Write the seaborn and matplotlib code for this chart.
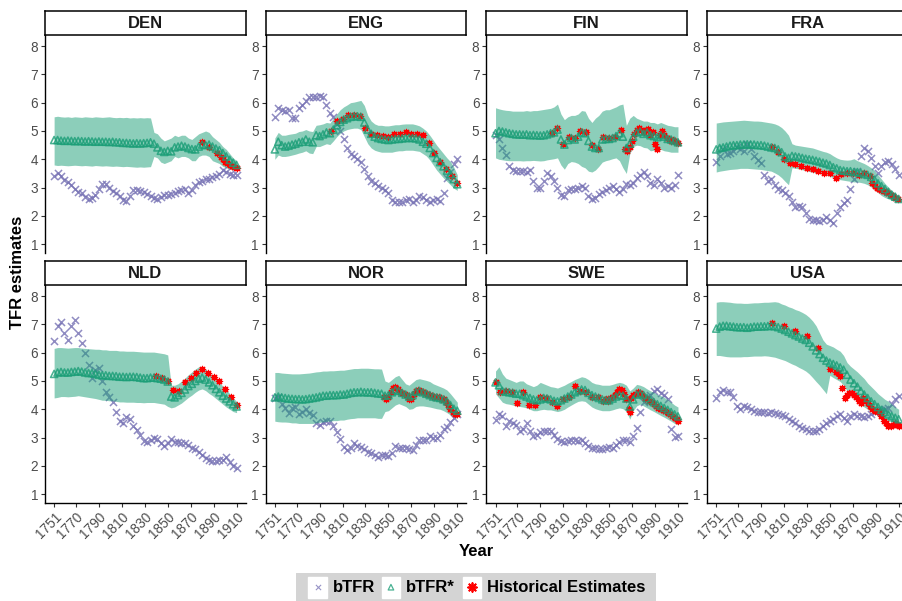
import matplotlib
matplotlib.use("Agg")
import matplotlib.pyplot as plt
from matplotlib.patches import Rectangle
import numpy as np
import pandas as pd
import seaborn as sns

# ---------------------------------------------------------------------------
# Data: annual-grid estimates sampled every three years (1751 ... 1910)
# ---------------------------------------------------------------------------
countries = ["DEN", "ENG", "FIN", "FRA", "NLD", "NOR", "SWE", "USA"]
years = list(range(1751, 1911, 3))

# Denmark
den_btfr = [3.40, 3.50, 3.40, 3.28, 3.20, 3.08, 2.95, 2.85, 2.80, 2.68,
            2.60, 2.62, 2.75, 2.95, 3.12, 3.12, 3.00, 2.88, 2.80, 2.72,
            2.55, 2.52, 2.70, 2.92, 2.90, 2.88, 2.85, 2.78, 2.72, 2.65,
            2.60, 2.68, 2.75, 2.75, 2.78, 2.82, 2.88, 2.92, 2.95, 2.82,
            2.90, 3.08, 3.20, 3.25, 3.30, 3.32, 3.36, 3.42, 3.48, 3.62,
            3.55, 3.48, 3.45, 3.45]
den_star = [4.68, 4.68, 4.66, 4.65, 4.66, 4.65, 4.64, 4.65, 4.64, 4.63,
            4.64, 4.63, 4.62, 4.63, 4.62, 4.62, 4.61, 4.62, 4.60, 4.60,
            4.58, 4.58, 4.57, 4.56, 4.57, 4.56, 4.57, 4.58, 4.60, 4.55,
            4.42, 4.30, 4.26, 4.30, 4.28, 4.42, 4.45, 4.48, 4.45, 4.40,
            4.36, 4.35, 4.45, 4.52, 4.50, 4.52, 4.45, 4.38, 4.32, 4.22,
            4.10, 3.98, 3.88, 3.80]
den_hi = [5.50, 5.52, 5.50, 5.49, 5.50, 5.48, 5.50, 5.49, 5.48, 5.50,
          5.49, 5.48, 5.50, 5.49, 5.48, 5.49, 5.50, 5.48, 5.47, 5.48,
          5.47, 5.48, 5.46, 5.47, 5.46, 5.47, 5.46, 5.47, 5.46, 4.95,
          4.90, 4.75, 4.65, 4.70, 4.75, 4.85, 4.80, 4.85, 4.85, 4.75,
          4.70, 4.80, 4.90, 4.95, 5.00, 4.95, 4.80, 4.70, 4.60, 4.45,
          4.35, 4.20, 4.05, 3.95]
den_lo = [3.80, 3.78, 3.79, 3.78, 3.77, 3.78, 3.79, 3.78, 3.77, 3.78,
          3.77, 3.76, 3.78, 3.77, 3.76, 3.77, 3.76, 3.75, 3.76, 3.75,
          3.74, 3.75, 3.74, 3.73, 3.72, 3.73, 3.72, 3.73, 3.74, 4.10,
          4.05, 3.90, 3.85, 3.90, 3.95, 4.10, 4.05, 4.10, 4.10, 4.05,
          3.95, 3.95, 4.10, 4.15, 4.15, 4.10, 3.95, 3.90, 3.85, 3.75,
          3.70, 3.65, 3.62, 3.60]
den_hist_years = [1880, 1886, 1893, 1896, 1898, 1900, 1902, 1904, 1906, 1908, 1910]
den_hist = [4.62, 4.45, 4.22, 4.08, 4.00, 3.92, 3.86, 3.80, 3.76, 3.72, 3.68]

# England
eng_btfr = [5.50, 5.80, 5.75, 5.70, 5.75, 5.45, 5.45, 5.80, 5.90, 6.05,
            6.20, 6.20, 6.20, 6.25, 6.20, 5.90, 5.65, 5.50, 5.25, 5.00,
            4.70, 4.40, 4.20, 4.10, 4.00, 3.90, 3.65, 3.40, 3.25, 3.15,
            3.05, 2.98, 2.92, 2.80, 2.55, 2.50, 2.50, 2.48, 2.55, 2.60,
            2.50, 2.55, 2.70, 2.68, 2.55, 2.50, 2.55, 2.58, 2.52, 2.80,
            3.35, 3.55, 3.85, 4.00]
eng_star = [4.35, 4.62, 4.50, 4.45, 4.48, 4.52, 4.55, 4.60, 4.62, 4.70,
            4.62, 4.60, 4.85, 4.82, 4.88, 4.95, 4.92, 5.05, 5.20, 5.32,
            5.40, 5.45, 5.50, 5.52, 5.52, 5.50, 5.30, 5.05, 4.90, 4.80,
            4.75, 4.72, 4.70, 4.68, 4.70, 4.72, 4.72, 4.74, 4.75, 4.76,
            4.75, 4.74, 4.70, 4.62, 4.55, 4.40, 4.22, 4.05, 3.90, 3.75,
            3.60, 3.48, 3.30, 3.12]
eng_hi = [4.75, 4.95, 4.85, 4.85, 4.88, 4.90, 4.92, 4.98, 5.00, 5.05,
          5.00, 4.98, 5.20, 5.22, 5.25, 5.30, 5.28, 5.45, 5.60, 5.75,
          5.85, 5.92, 6.00, 6.02, 6.05, 6.08, 5.90, 5.55, 5.35, 5.25,
          5.20, 5.20, 5.18, 5.18, 5.20, 5.22, 5.22, 5.24, 5.25, 5.25,
          5.25, 5.22, 5.18, 5.10, 5.00, 4.85, 4.68, 4.50, 4.35, 4.20,
          4.05, 3.92, 3.72, 3.45]
eng_lo = [4.00, 4.15, 4.10, 4.10, 4.12, 4.15, 4.18, 4.22, 4.25, 4.30,
          4.22, 4.20, 4.45, 4.45, 4.50, 4.55, 4.52, 4.65, 4.80, 4.92,
          5.00, 5.05, 5.08, 5.10, 5.10, 5.05, 4.80, 4.55, 4.40, 4.32,
          4.28, 4.25, 4.25, 4.25, 4.25, 4.28, 4.30, 4.30, 4.32, 4.32,
          4.32, 4.30, 4.28, 4.20, 4.12, 3.98, 3.80, 3.62, 3.48, 3.34,
          3.22, 3.10, 2.98, 2.90]
eng_hist_years = [1800, 1805, 1810, 1815, 1820, 1825, 1830, 1835, 1840, 1845,
                  1850, 1855, 1860, 1865, 1870, 1875, 1880, 1885, 1890, 1895,
                  1900, 1905, 1910]
eng_hist = [5.00, 5.36, 5.42, 5.56, 5.58, 5.53, 5.09, 4.88, 4.85, 4.82,
            4.77, 4.91, 4.91, 4.95, 4.91, 4.91, 4.85, 4.56, 4.21, 3.91,
            3.64, 3.42, 3.15]

# Finland
fin_btfr = [4.85, 4.70, 4.40, 4.15, 3.75, 3.62, 3.60, 3.60, 3.58, 3.55,
            3.62, 3.25, 3.00, 3.00, 3.25, 3.50, 3.42, 3.25, 3.00, 2.75,
            2.72, 2.90, 2.95, 2.95, 3.00, 3.05, 3.00, 2.70, 2.60, 2.62,
            2.78, 2.85, 2.92, 2.98, 3.05, 2.95, 2.85, 2.95, 3.12, 3.10,
            3.18, 3.35, 3.45, 3.55, 3.42, 3.18, 3.08, 3.30, 3.15, 3.00,
            3.05, 3.00, 3.10, 3.45]
fin_star = [4.92, 5.00, 4.98, 4.95, 4.92, 4.90, 4.88, 4.88, 4.87, 4.88,
            4.85, 4.86, 4.85, 4.84, 4.85, 4.88, 4.92, 4.95, 5.05, 4.70,
            4.52, 4.68, 4.75, 4.70, 4.80, 4.95, 4.92, 4.65, 4.45, 4.40,
            4.40, 4.70, 4.72, 4.72, 4.75, 4.82, 4.92, 4.80, 4.40, 4.55,
            4.80, 4.95, 4.98, 4.90, 4.95, 4.85, 4.82, 4.78, 4.85, 4.80,
            4.72, 4.70, 4.65, 4.60]
fin_hi = [5.82, 5.78, 5.75, 5.73, 5.72, 5.70, 5.70, 5.70, 5.70, 5.72,
          5.70, 5.72, 5.72, 5.74, 5.76, 5.78, 5.80, 5.85, 5.95, 5.60,
          5.40, 5.50, 5.55, 5.55, 5.60, 5.72, 5.70, 5.45, 5.30, 5.45,
          5.55, 5.70, 5.75, 5.75, 5.80, 5.85, 5.92, 5.95, 5.20, 5.45,
          5.55, 5.45, 5.40, 5.35, 5.35, 5.30, 5.30, 5.25, 5.30, 5.25,
          5.20, 5.18, 5.15, 5.15]
fin_lo = [4.05, 4.00, 3.98, 3.96, 3.95, 3.95, 3.95, 3.95, 3.94, 3.95,
          3.95, 3.96, 3.95, 3.94, 3.95, 3.98, 4.00, 4.02, 4.05, 3.80,
          3.65, 3.85, 3.92, 3.90, 3.85, 3.75, 3.70, 3.58, 3.55, 3.62,
          3.75, 3.90, 3.95, 3.98, 4.02, 4.05, 3.95, 3.70, 3.50, 4.20,
          4.45, 4.50, 4.48, 4.42, 4.40, 4.30, 4.32, 4.30, 4.35, 4.30,
          4.28, 4.25, 4.25, 4.25]
fin_hist_years = [1800, 1805, 1810, 1815, 1820, 1825, 1830, 1835, 1840, 1845,
                  1850, 1855, 1860, 1864, 1866, 1868, 1870, 1872, 1874, 1876,
                  1878, 1880, 1882, 1884, 1886, 1888, 1890, 1892, 1894, 1896,
                  1898, 1900, 1902, 1904, 1906, 1908, 1910]
fin_hist = [4.94, 5.12, 4.54, 4.77, 4.74, 5.00, 4.95, 4.50, 4.35, 4.80,
            4.74, 4.77, 5.05, 4.35, 4.30, 4.45, 4.65, 4.90, 5.05, 5.10,
            5.05, 4.95, 5.05, 5.08, 4.85, 4.95, 4.55, 4.38, 4.85, 5.00,
            4.85, 4.75, 4.72, 4.65, 4.68, 4.62, 4.58]

# France
fra_btfr = [3.90, 4.10, 4.35, 4.20, 4.22, 4.30, 4.45, 4.35, 4.28, 4.55,
            4.35, 4.10, 3.98, 3.88, 3.45, 3.25, 3.32, 3.10, 2.95, 2.90,
            2.82, 2.72, 2.50, 2.32, 2.35, 2.30, 2.10, 1.90, 1.85, 1.85,
            1.82, 1.85, 1.95, 1.85, 1.75, 2.10, 2.30, 2.45, 2.55, 2.95,
            3.30, 3.60, 4.10, 4.40, 4.30, 4.05, 3.75, 3.50, 3.75, 3.90,
            3.95, 3.85, 3.65, 3.45]
fra_star = [4.35, 4.40, 4.42, 4.45, 4.48, 4.50, 4.50, 4.52, 4.52, 4.53,
            4.52, 4.52, 4.50, 4.50, 4.48, 4.45, 4.42, 4.40, 4.35, 4.25,
            4.10, 4.05, 4.12, 4.10, 4.08, 4.05, 4.02, 4.00, 3.98, 3.95,
            3.92, 3.88, 3.85, 3.80, 3.72, 3.68, 3.62, 3.60, 3.58, 3.58,
            3.55, 3.55, 3.52, 3.48, 3.45, 3.38, 3.28, 3.15, 3.05, 2.95,
            2.85, 2.75, 2.68, 2.60]
fra_hi = [5.28, 5.30, 5.32, 5.33, 5.34, 5.35, 5.36, 5.37, 5.38, 5.37,
          5.36, 5.35, 5.35, 5.34, 5.32, 5.30, 5.28, 5.25, 5.20, 5.12,
          5.00, 4.85, 4.55, 4.50, 4.48, 4.46, 4.44, 4.42, 4.40, 4.36,
          4.32, 4.28, 4.25, 4.20, 4.12, 4.05, 4.00, 3.98, 3.97, 3.98,
          4.02, 3.95, 3.90, 3.85, 3.78, 3.70, 3.60, 3.45, 3.30, 3.15,
          3.02, 2.90, 2.80, 2.72]
fra_lo = [3.55, 3.58, 3.60, 3.62, 3.64, 3.65, 3.66, 3.68, 3.68, 3.68,
          3.67, 3.66, 3.65, 3.64, 3.62, 3.60, 3.58, 3.52, 3.45, 3.35,
          3.22, 3.10, 3.70, 3.68, 3.66, 3.63, 3.60, 3.57, 3.54, 3.52,
          3.50, 3.47, 3.44, 3.40, 3.35, 3.30, 3.28, 3.26, 3.24, 3.22,
          3.20, 3.20, 3.18, 3.15, 3.10, 3.02, 2.92, 2.82, 2.72, 2.65,
          2.60, 2.55, 2.52, 2.50]
fra_hist_years = [1800, 1805, 1810, 1815, 1820, 1825, 1830, 1835, 1840, 1845,
                  1850, 1855, 1860, 1865, 1870, 1875, 1880, 1885, 1887, 1889,
                  1891, 1893, 1895, 1897, 1899, 1901, 1903, 1905, 1907, 1909]
fra_hist = [4.42, 4.25, 4.02, 3.88, 3.85, 3.77, 3.70, 3.65, 3.60, 3.53,
            3.50, 3.35, 3.48, 3.52, 3.50, 3.45, 3.50, 3.42, 3.15, 3.05,
            3.00, 2.95, 2.92, 2.88, 2.85, 2.80, 2.75, 2.70, 2.62, 2.58]

# Netherlands
nld_btfr = [6.40, 6.95, 7.10, 6.70, 6.45, 6.95, 7.15, 6.70, 6.35, 6.00,
            5.55, 5.10, 5.40, 5.45, 5.00, 4.60, 4.45, 4.25, 3.90, 3.60,
            3.50, 3.72, 3.65, 3.40, 3.28, 3.10, 2.88, 2.85, 2.92, 3.00,
            2.95, 2.80, 2.72, 2.80, 2.95, 2.85, 2.85, 2.82, 2.80, 2.75,
            2.62, 2.58, 2.50, 2.40, 2.28, 2.22, 2.18, 2.18, 2.20, 2.22,
            2.30, 2.15, 2.00, 1.92]
nld_star = [5.25, 5.30, 5.32, 5.30, 5.30, 5.32, 5.33, 5.35, 5.33, 5.30,
            5.28, 5.28, 5.25, 5.22, 5.20, 5.20, 5.18, 5.18, 5.17, 5.15,
            5.15, 5.14, 5.15, 5.15, 5.14, 5.12, 5.10, 5.10, 5.12, 5.12,
            5.10, 5.08, 5.05, 4.98, 4.45, 4.42, 4.50, 4.58, 4.70, 4.82,
            4.90, 5.00, 5.08, 5.12, 5.05, 4.95, 4.85, 4.72, 4.60, 4.48,
            4.38, 4.28, 4.18, 4.10]
nld_hi = [6.15, 6.18, 6.18, 6.17, 6.16, 6.17, 6.18, 6.18, 6.16, 6.15,
          6.14, 6.13, 6.12, 6.12, 6.10, 6.10, 6.08, 6.08, 6.08, 6.06,
          6.06, 6.05, 6.05, 6.05, 6.04, 6.03, 6.02, 6.02, 6.02, 6.02,
          6.00, 5.98, 5.96, 5.92, 4.85, 4.85, 4.90, 5.00, 5.10, 5.22,
          5.32, 5.42, 5.50, 5.52, 5.42, 5.30, 5.20, 5.08, 4.95, 4.82,
          4.70, 4.55, 4.40, 4.28]
nld_lo = [4.40, 4.42, 4.45, 4.45, 4.44, 4.45, 4.46, 4.48, 4.46, 4.44,
          4.42, 4.40, 4.38, 4.35, 4.32, 4.32, 4.30, 4.30, 4.28, 4.26,
          4.26, 4.25, 4.25, 4.25, 4.24, 4.24, 4.23, 4.24, 4.24, 4.24,
          4.22, 4.20, 4.18, 4.10, 4.05, 4.08, 4.15, 4.22, 4.32, 4.42,
          4.50, 4.60, 4.68, 4.72, 4.66, 4.56, 4.48, 4.38, 4.28, 4.18,
          4.08, 4.00, 3.92, 3.88]
nld_hist_years = [1840, 1845, 1850, 1855, 1860, 1865, 1870, 1875, 1880, 1885,
                  1890, 1895, 1900, 1905, 1910]
nld_hist = [5.18, 5.11, 5.00, 4.68, 4.65, 4.95, 5.09, 5.29, 5.42, 5.29,
            5.15, 5.00, 4.71, 4.44, 4.15]

# Norway
nor_btfr = [4.40, 4.45, 4.20, 4.05, 3.88, 4.05, 4.08, 3.85, 3.92, 4.00,
            3.88, 3.80, 3.50, 3.45, 3.55, 3.58, 3.58, 3.42, 3.20, 2.95,
            2.68, 2.55, 2.62, 2.80, 2.72, 2.68, 2.58, 2.50, 2.45, 2.38,
            2.30, 2.38, 2.40, 2.35, 2.45, 2.70, 2.65, 2.62, 2.65, 2.60,
            2.55, 2.75, 2.92, 2.92, 2.92, 3.05, 3.00, 3.00, 3.10, 3.30,
            3.38, 3.55, 3.70, 3.85]
nor_star = [4.42, 4.45, 4.42, 4.40, 4.38, 4.37, 4.36, 4.36, 4.35, 4.36,
            4.38, 4.40, 4.42, 4.45, 4.48, 4.48, 4.50, 4.50, 4.50, 4.52,
            4.52, 4.55, 4.58, 4.60, 4.60, 4.62, 4.60, 4.60, 4.60, 4.58,
            4.56, 4.55, 4.48, 4.50, 4.60, 4.68, 4.65, 4.58, 4.52, 4.45,
            4.50, 4.62, 4.65, 4.60, 4.55, 4.50, 4.45, 4.42, 4.40, 4.35,
            4.28, 4.15, 4.02, 3.95]
nor_hi = [5.30, 5.30, 5.28, 5.27, 5.26, 5.25, 5.25, 5.25, 5.26, 5.27,
          5.28, 5.30, 5.32, 5.33, 5.35, 5.35, 5.36, 5.36, 5.37, 5.38,
          5.38, 5.40, 5.42, 5.44, 5.44, 5.45, 5.45, 5.45, 5.44, 5.43,
          5.43, 5.42, 5.00, 4.95, 5.05, 5.15, 5.20, 5.05, 4.90, 4.85,
          4.95, 5.05, 5.08, 5.05, 5.02, 4.98, 4.90, 4.85, 4.80, 4.75,
          4.68, 4.55, 4.40, 4.25]
nor_lo = [3.58, 3.56, 3.55, 3.55, 3.54, 3.52, 3.52, 3.50, 3.50, 3.50,
          3.50, 3.50, 3.52, 3.54, 3.55, 3.57, 3.58, 3.60, 3.60, 3.62,
          3.62, 3.65, 3.67, 3.68, 3.70, 3.70, 3.70, 3.70, 3.70, 3.70,
          3.68, 3.68, 3.92, 3.95, 4.05, 4.15, 4.20, 4.15, 4.10, 4.00,
          4.02, 4.10, 4.12, 4.12, 4.10, 4.08, 4.05, 4.02, 4.00, 3.95,
          3.88, 3.80, 3.72, 3.68]
nor_hist_years = [1846, 1848, 1850, 1852, 1854, 1856, 1858, 1860, 1862, 1864,
                  1866, 1868, 1870, 1872, 1874, 1876, 1878, 1880, 1882, 1884,
                  1886, 1888, 1890, 1892, 1894, 1896, 1898, 1900, 1902, 1904,
                  1906, 1908, 1910]
nor_hist = [4.45, 4.38, 4.42, 4.60, 4.75, 4.78, 4.72, 4.62, 4.58, 4.55,
            4.50, 4.38, 4.35, 4.55, 4.65, 4.68, 4.65, 4.60, 4.58, 4.55,
            4.50, 4.48, 4.45, 4.45, 4.42, 4.38, 4.35, 4.25, 4.15, 4.02,
            3.90, 3.85, 3.85]

# Sweden
swe_btfr = [3.62, 3.85, 3.75, 3.42, 3.58, 3.50, 3.45, 3.25, 3.30, 3.50,
            3.25, 3.05, 3.10, 3.20, 3.25, 3.22, 3.25, 3.10, 2.95, 2.88,
            2.85, 2.88, 2.90, 2.90, 2.88, 2.90, 2.82, 2.72, 2.65, 2.62,
            2.60, 2.60, 2.65, 2.68, 2.65, 2.75, 2.85, 2.90, 2.90, 2.85,
            3.05, 3.35, 3.90, 4.25, 4.42, 4.52, 4.65, 4.70, 4.58, 4.52,
            4.35, 3.30, 3.02, 3.05]
swe_star = [4.95, 4.85, 4.65, 4.62, 4.60, 4.58, 4.55, 4.55, 4.50, 4.45,
            4.40, 4.35, 4.32, 4.35, 4.40, 4.38, 4.35, 4.30, 4.28, 4.32,
            4.38, 4.45, 4.52, 4.60, 4.65, 4.70, 4.68, 4.58, 4.50, 4.45,
            4.40, 4.35, 4.32, 4.32, 4.38, 4.45, 4.50, 4.48, 4.38, 4.10,
            4.35, 4.52, 4.55, 4.50, 4.40, 4.32, 4.25, 4.18, 4.12, 4.05,
            3.98, 3.90, 3.82, 3.75]
swe_hi = [5.35, 5.50, 5.25, 5.10, 5.05, 5.00, 4.95, 5.00, 5.00, 4.90,
          4.85, 4.80, 4.85, 4.95, 4.90, 4.85, 4.80, 4.78, 4.75, 4.80,
          4.85, 4.92, 4.98, 5.05, 5.10, 5.15, 5.12, 5.05, 4.95, 4.90,
          4.88, 4.85, 4.85, 4.85, 4.88, 4.92, 4.95, 4.92, 4.85, 4.65,
          4.75, 4.88, 4.85, 4.80, 4.72, 4.65, 4.60, 4.52, 4.48, 4.42,
          4.35, 4.25, 4.15, 4.08]
swe_lo = [4.55, 4.40, 4.25, 4.20, 4.18, 4.15, 4.12, 4.10, 4.08, 4.05,
          4.00, 3.95, 3.95, 3.98, 4.00, 3.98, 3.98, 3.95, 3.92, 3.95,
          4.00, 4.08, 4.15, 4.22, 4.28, 4.30, 4.28, 4.18, 4.08, 4.02,
          3.98, 3.95, 3.95, 3.95, 3.98, 4.02, 4.05, 4.02, 3.92, 3.65,
          3.95, 4.12, 4.18, 4.12, 4.05, 3.98, 3.92, 3.85, 3.78, 3.72,
          3.65, 3.58, 3.50, 3.45]
swe_hist_years = [1751, 1755, 1760, 1765, 1770, 1775, 1780, 1785, 1790, 1795,
                  1800, 1805, 1810, 1815, 1820, 1825, 1830, 1835, 1840, 1845,
                  1847, 1849, 1851, 1853, 1855, 1857, 1859, 1861, 1863, 1865,
                  1867, 1868, 1869, 1871, 1873, 1875, 1877, 1879, 1881, 1883,
                  1885, 1887, 1889, 1891, 1893, 1895, 1897, 1899, 1901, 1903,
                  1905, 1907, 1909, 1910]
swe_hist = [4.95, 4.60, 4.65, 4.60, 4.22, 4.60, 4.15, 4.15, 4.45, 4.40,
            4.25, 4.10, 4.35, 4.45, 4.82, 4.65, 4.62, 4.45, 4.45, 4.30,
            4.35, 4.30, 4.40, 4.45, 4.50, 4.62, 4.72, 4.68, 4.55, 4.35,
            4.00, 3.92, 4.40, 4.50, 4.55, 4.60, 4.58, 4.50, 4.40, 4.35,
            4.30, 4.25, 4.18, 4.10, 4.05, 4.02, 3.98, 3.95, 3.88, 3.82,
            3.75, 3.70, 3.65, 3.60]

# United States
usa_btfr = [4.40, 4.60, 4.68, 4.62, 4.60, 4.45, 4.10, 4.02, 4.10, 4.08,
            4.00, 3.95, 3.92, 3.90, 3.90, 3.88, 3.90, 3.88, 3.82, 3.80,
            3.76, 3.65, 3.58, 3.52, 3.42, 3.35, 3.30, 3.25, 3.22, 3.25,
            3.32, 3.42, 3.50, 3.58, 3.65, 3.78, 3.85, 3.68, 3.58, 3.78,
            3.85, 3.78, 3.75, 3.72, 3.75, 3.85, 3.92, 3.95, 3.98, 4.02,
            4.05, 4.20, 4.35, 4.48]
usa_star = [6.85, 6.92, 6.95, 6.95, 6.93, 6.92, 6.90, 6.90, 6.90, 6.88,
            6.90, 6.92, 6.92, 6.93, 6.93, 6.94, 6.95, 6.93, 6.90, 6.85,
            6.80, 6.74, 6.68, 6.62, 6.57, 6.50, 6.45, 6.35, 6.22, 6.08,
            5.95, 5.82, 5.72, 5.65, 5.60, 5.55, 5.48, 5.40, 5.22, 5.05,
            4.92, 4.80, 4.65, 4.52, 4.40, 4.28, 4.18, 4.08, 3.98, 3.90,
            3.82, 3.76, 3.70, 3.65]
usa_hi = [7.78, 7.80, 7.80, 7.79, 7.78, 7.76, 7.75, 7.75, 7.74, 7.74,
          7.75, 7.76, 7.76, 7.77, 7.78, 7.78, 7.79, 7.80, 7.78, 7.72,
          7.68, 7.62, 7.58, 7.52, 7.48, 7.42, 7.35, 7.25, 7.12, 6.95,
          6.70, 6.45, 6.30, 6.25, 6.20, 6.12, 6.05, 5.90, 5.65, 5.52,
          5.42, 5.32, 5.20, 5.08, 4.92, 4.80, 4.68, 4.55, 4.45, 4.35,
          4.28, 4.18, 4.08, 4.00]
usa_lo = [5.90, 5.90, 5.88, 5.86, 5.85, 5.85, 5.85, 5.85, 5.86, 5.86,
          5.87, 5.88, 5.88, 5.88, 5.89, 5.88, 5.86, 5.84, 5.80, 5.76,
          5.72, 5.66, 5.60, 5.55, 5.48, 5.42, 5.35, 5.25, 5.12, 4.98,
          4.85, 4.70, 4.55, 5.20, 5.12, 5.05, 4.98, 4.85, 4.65, 4.50,
          4.38, 4.25, 4.15, 4.08, 4.00, 3.92, 3.85, 3.78, 3.72, 3.66,
          3.60, 3.55, 3.50, 3.48]
usa_hist_years = [1800, 1810, 1820, 1830, 1840, 1850, 1855, 1857, 1859, 1861,
                  1863, 1865, 1867, 1869, 1871, 1873, 1875, 1877, 1879, 1881,
                  1883, 1885, 1887, 1889, 1891, 1893, 1895, 1897, 1899, 1901,
                  1903, 1905, 1907, 1909, 1910]
usa_hist = [7.05, 6.93, 6.76, 6.58, 6.15, 5.44, 5.32, 5.28, 5.18, 4.75,
            4.40, 4.50, 4.58, 4.58, 4.52, 4.45, 4.30, 4.22, 4.40, 4.32,
            4.22, 4.10, 4.00, 3.95, 3.95, 3.90, 3.75, 3.60, 3.50, 3.42,
            3.40, 3.45, 3.50, 3.45, 3.42]

series = {
    "DEN": (den_btfr, den_star, den_lo, den_hi, den_hist_years, den_hist),
    "ENG": (eng_btfr, eng_star, eng_lo, eng_hi, eng_hist_years, eng_hist),
    "FIN": (fin_btfr, fin_star, fin_lo, fin_hi, fin_hist_years, fin_hist),
    "FRA": (fra_btfr, fra_star, fra_lo, fra_hi, fra_hist_years, fra_hist),
    "NLD": (nld_btfr, nld_star, nld_lo, nld_hi, nld_hist_years, nld_hist),
    "NOR": (nor_btfr, nor_star, nor_lo, nor_hi, nor_hist_years, nor_hist),
    "SWE": (swe_btfr, swe_star, swe_lo, swe_hi, swe_hist_years, swe_hist),
    "USA": (usa_btfr, usa_star, usa_lo, usa_hi, usa_hist_years, usa_hist),
}

x_ticks = [1751, 1770, 1790, 1810, 1830, 1850, 1870, 1890, 1910]
y_ticks = [1, 2, 3, 4, 5, 6, 7, 8]

# Long-format tables
est_rows, hist_rows = [], []
for c in countries:
    b, s, lo, hi, hy, hv = series[c]
    for i, yr in enumerate(years):
        est_rows.append({"country": c, "year": yr, "bTFR": b[i],
                         "bTFR*": s[i], "lo": lo[i], "hi": hi[i]})
    for yr, v in zip(hy, hv):
        hist_rows.append({"country": c, "year": yr, "hist": v})
est = pd.DataFrame(est_rows)
hist = pd.DataFrame(hist_rows)

# ---------------------------------------------------------------------------
# Styling
# ---------------------------------------------------------------------------
sns.set_theme(style="white")
plt.rcParams["font.family"] = ["Liberation Sans", "DejaVu Sans"]

PURPLE = "#7570B3"
GREEN = "#1B9E77"
RED = "#FF0000"
TICK_TXT = "#4D4D4D"
ASTERISK = (8, 2, 0)

W, H = 903, 601
fig = plt.figure(figsize=(W / 100, H / 100), dpi=100)
fig.patch.set_facecolor("white")


def frac_rect(x, y, w, h):
    return [x / W, 1 - (y + h) / H, w / W, h / H]


col_left = [45.0, 265.7, 486.4, 707.1]
row_top = [34.7, 284.7]
panel_w, panel_h, strip_h = 200.7, 218.6, 24.0

for k, c in enumerate(countries):
    r, col = divmod(k, 4)
    ax = fig.add_axes(frac_rect(col_left[col], row_top[r], panel_w, panel_h))
    sub = est[est["country"] == c]
    hsub = hist[hist["country"] == c]

    sns.scatterplot(data=sub, x="year", y="bTFR", marker="x", color=PURPLE,
                    s=26, linewidth=1.1, alpha=0.8, ax=ax, zorder=2,
                    legend=False)
    ax.fill_between(sub["year"], sub["lo"], sub["hi"], color=GREEN,
                    alpha=0.5, linewidth=0, zorder=3)
    sns.scatterplot(data=hsub, x="year", y="hist", marker=ASTERISK,
                    color=RED, s=20, linewidth=0.9, ax=ax, zorder=4,
                    legend=False)
    sns.scatterplot(data=sub, x="year", y="bTFR*", marker="^", color=GREEN,
                    facecolor="none", edgecolor=GREEN, s=26, linewidth=1.15,
                    alpha=0.8, ax=ax, zorder=5, legend=False)

    ax.set_xlim(1743.05, 1917.95)
    ax.set_ylim(0.68, 8.40)
    ax.set_facecolor("white")
    ax.grid(False)
    ax.set_xlabel("")
    ax.set_ylabel("")
    ax.set_yticks(y_ticks)
    ax.set_yticklabels([str(v) for v in y_ticks])
    ax.set_xticks(x_ticks)
    for side in ("top", "right"):
        ax.spines[side].set_visible(False)
    ax.spines["left"].set_color("black")
    ax.spines["left"].set_linewidth(1.0)
    ax.tick_params(axis="y", left=True, length=3, width=0.8, color="#333333",
                   labelsize=9.8, labelcolor=TICK_TXT, pad=2)
    if r == 0:
        ax.spines["bottom"].set_visible(False)
        ax.tick_params(axis="x", bottom=False, labelbottom=False)
    else:
        ax.spines["bottom"].set_color("black")
        ax.spines["bottom"].set_linewidth(1.0)
        ax.tick_params(axis="x", bottom=True, length=3, width=0.8,
                       color="#333333", labelsize=9.8, labelcolor=TICK_TXT,
                       pad=2)
        ax.set_xticklabels([str(v) for v in x_ticks], rotation=45,
                           ha="right", va="top", rotation_mode="anchor")

    # facet strip
    sax = fig.add_axes(frac_rect(col_left[col], row_top[r] - strip_h,
                                 panel_w, strip_h))
    sax.set_xticks([])
    sax.set_yticks([])
    sax.set_facecolor("white")
    for sp in sax.spines.values():
        sp.set_visible(True)
        sp.set_color("black")
        sp.set_linewidth(1.1)
    sax.text(0.5, 0.48, c, transform=sax.transAxes, ha="center", va="center",
             fontsize=12, fontweight="bold", color="#1A1A1A")

# axis titles
fig.text(18 / W, 1 - 272 / H, "TFR estimates", rotation=90, ha="center",
         va="center", fontsize=12, fontweight="bold", color="black")
fig.text(476.5 / W, 1 - 551 / H, "Year", ha="center", va="center",
         fontsize=12, fontweight="bold", color="black")

# legend
lax = fig.add_axes(frac_rect(296, 573, 360, 28))
lax.set_xlim(296, 656)
lax.set_ylim(601, 573)
lax.axis("off")
lax.add_patch(Rectangle((296, 573), 360, 28, color="#D4D4D4", zorder=0))
keys = [(308.3, "x", PURPLE, "bTFR", dict(s=14, linewidth=0.8, alpha=0.75)),
        (381.7, "^", GREEN, "bTFR*", dict(s=16, linewidth=0.9, alpha=0.8,
                                          facecolor="none")),
        (462.7, ASTERISK, RED, "Historical Estimates", dict(s=40, linewidth=1.3))]
for kx, mk, colr, label, kw in keys:
    lax.add_patch(Rectangle((kx, 576.7), 18.5, 21, color="white", zorder=1))
    if mk == "^":
        lax.scatter([kx + 9.25], [587.2], marker=mk, edgecolors=colr,
                    zorder=2, **kw)
    else:
        lax.scatter([kx + 9.25], [587.2], marker=mk, color=colr, zorder=2, **kw)
    lax.text(kx + 24.5, 587.5, label, ha="left", va="center", fontsize=12,
             fontweight="bold", color="black", zorder=3)

fig.savefig("out.png", dpi=100, facecolor="white")
